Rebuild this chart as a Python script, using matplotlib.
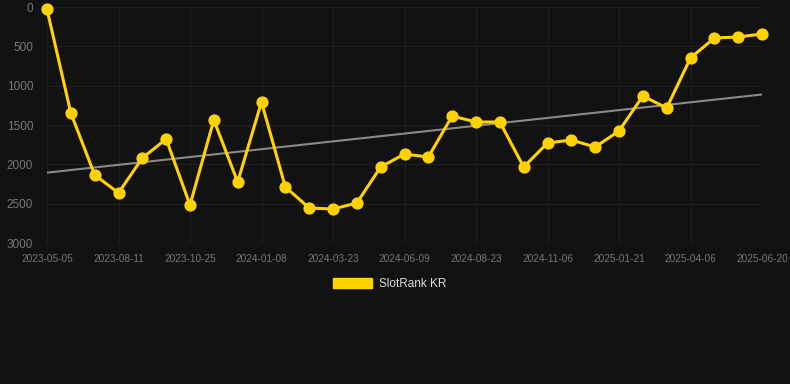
import matplotlib
matplotlib.use("Agg")
import matplotlib.pyplot as plt
from matplotlib.patches import Patch
import numpy as np

plt.rcParams['font.family'] = ['Liberation Sans', 'DejaVu Sans']

series_name = "SlotRank KR"
ranks = [30, 1347, 2135, 2364, 1920, 1678, 2517, 1436, 2225, 1208,
         2288, 2555, 2568, 2492, 2034, 1869, 1907, 1386, 1462, 1462,
         2034, 1729, 1691, 1780, 1576, 1131, 1284, 648, 394, 381, 343]
tick_labels = ["2023-05-05", "2023-08-11", "2023-10-25", "2024-01-08",
               "2024-03-23", "2024-06-09", "2024-08-23", "2024-11-06",
               "2025-01-21", "2025-04-06", "2025-06-20"]
y_ticks = [0, 500, 1000, 1500, 2000, 2500, 3000]

bg = "#121212"
gold = "#ffd200"

fig = plt.figure(figsize=(7.9, 3.84), dpi=100, facecolor=bg)
ax = fig.add_axes([47/790, 1-243/384, (762-47)/790, (243-7)/384])
ax.set_facecolor(bg)

x = np.arange(len(ranks))
coef = np.polyfit(x, ranks, 1)
ax.plot(x, np.polyval(coef, x), color="#8a8a8a", lw=1.5, zorder=2)
ax.plot(x, ranks, color=gold, lw=2.2, marker='o', markersize=7.8,
        clip_on=False, zorder=3)

ax.set_xlim(0, len(ranks)-1)
ax.set_ylim(3000, 0)
ax.set_yticks(y_ticks)
ax.set_yticklabels([str(v) for v in y_ticks])
ax.set_xticks(x[::3])
ax.set_xticklabels(tick_labels)

ax.grid(True, color="#1f1f1f", lw=0.9)
for s in ax.spines.values():
    s.set_visible(False)
ax.tick_params(axis='both', length=0, colors="#777777")
ax.tick_params(axis='y', labelsize=8.5, pad=10)
ax.tick_params(axis='x', labelsize=7.2, pad=8)

fig.legend(handles=[Patch(facecolor=gold, edgecolor=gold)], labels=[series_name],
           loc='center', bbox_to_anchor=(390/790, 1-284/384), frameon=False,
           fontsize=8.5, labelcolor="#dddddd", handlelength=3.3, handleheight=0.9,
           handletextpad=0.6)

fig.savefig("out.png", dpi=100, facecolor=bg)
